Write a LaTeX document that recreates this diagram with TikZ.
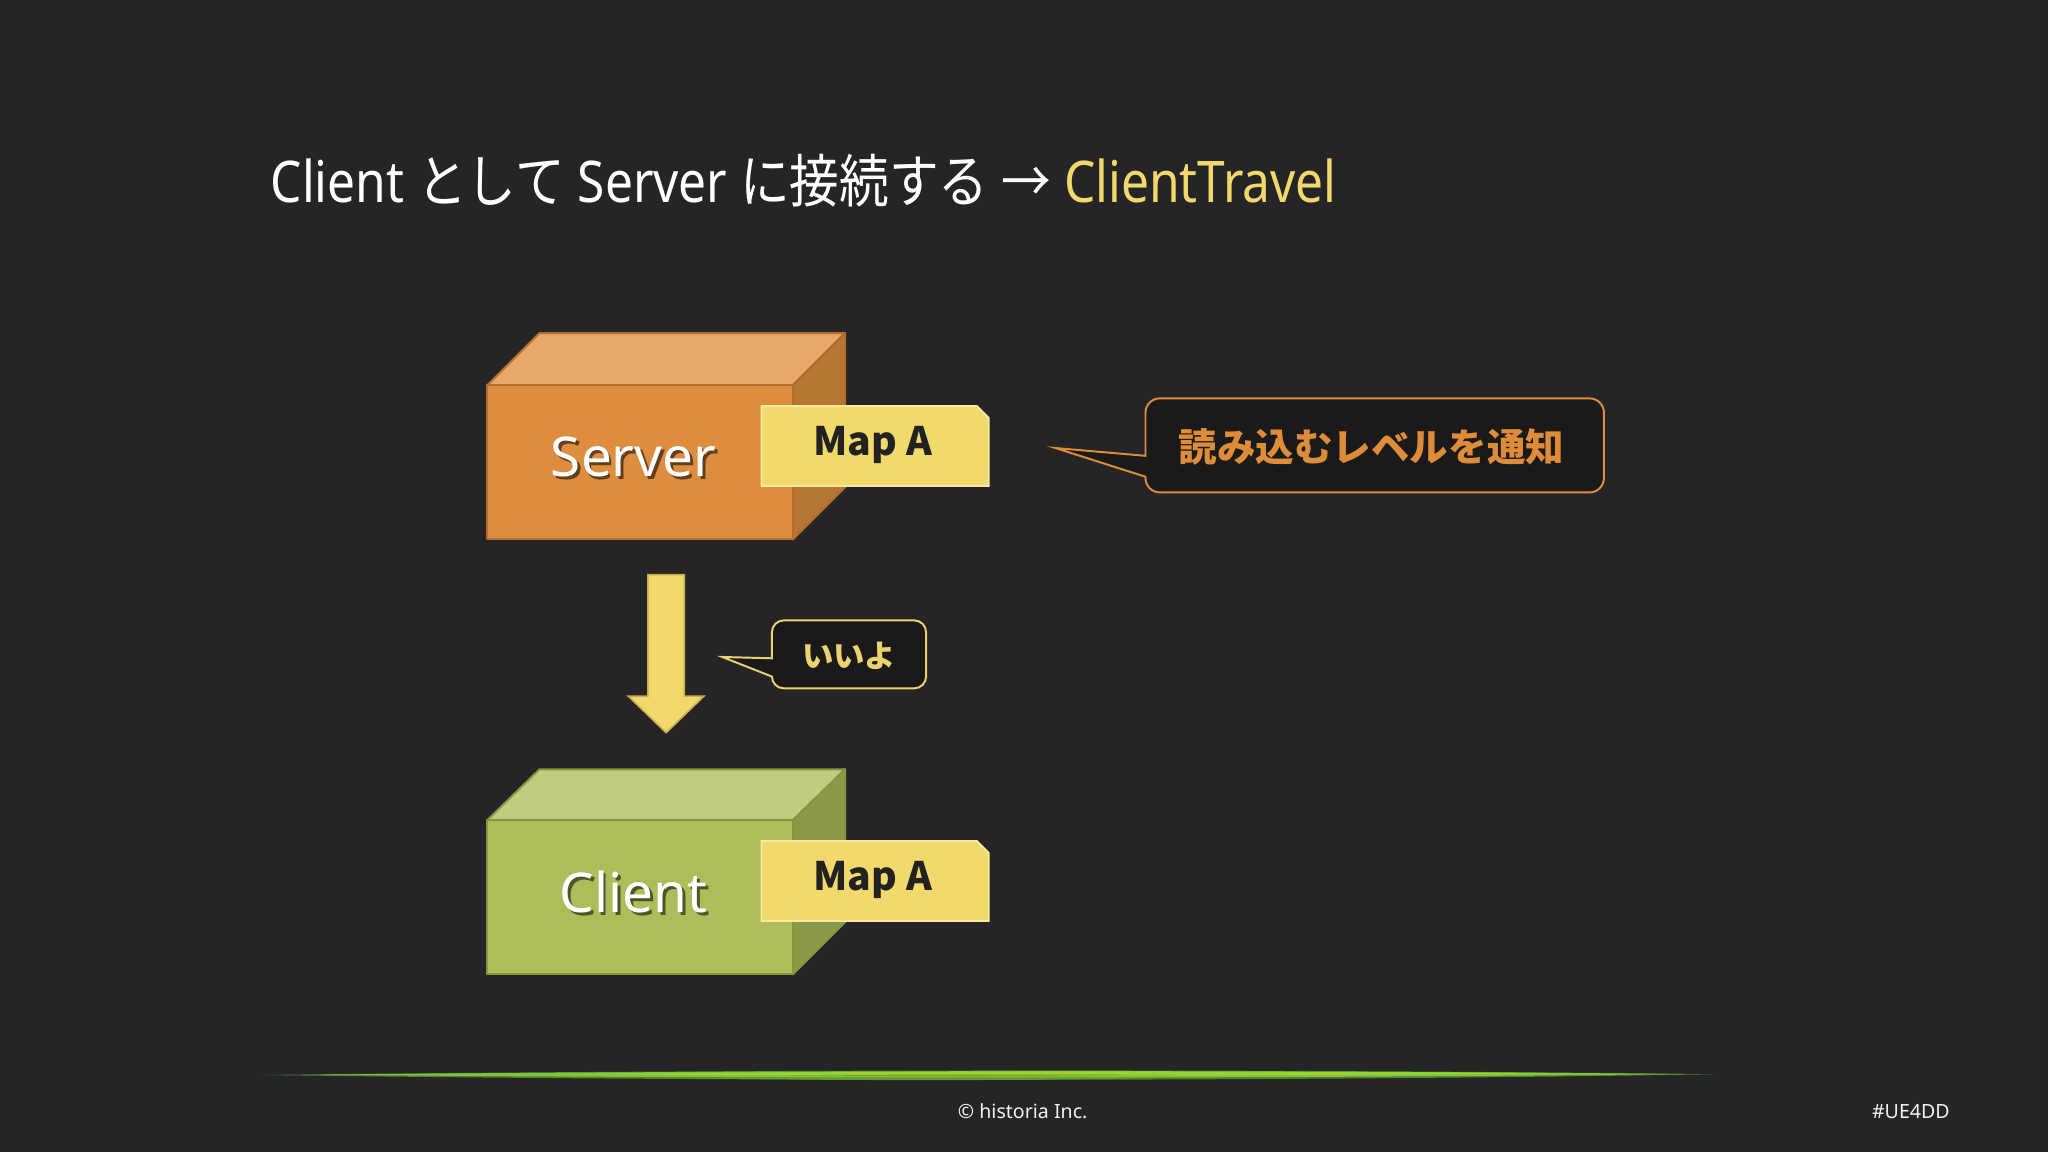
\documentclass[tikz,border=0pt]{standalone}
\usepackage{fontspec}
\usepackage{graphicx}
\setmainfont{Noto Sans}
\newfontfamily\jp{Noto Sans CJK JP}
\definecolor{bg}{RGB}{37,37,39}
\definecolor{titleyellow}{RGB}{242,216,106}
\definecolor{srvfront}{RGB}{222,141,62}
\definecolor{srvtop}{RGB}{229,168,104}
\definecolor{srvside}{RGB}{182,118,52}
\definecolor{srvedge}{RGB}{180,108,44}
\definecolor{clifront}{RGB}{173,189,90}
\definecolor{clitop}{RGB}{192,204,128}
\definecolor{cliside}{RGB}{138,154,70}
\definecolor{cliedge}{RGB}{134,150,62}
\definecolor{tagfill}{RGB}{242,217,107}
\definecolor{tagedge}{RGB}{250,234,160}
\definecolor{tagtext}{RGB}{34,34,34}
\definecolor{calloutfill}{RGB}{26,26,26}
\definecolor{calloutorange}{RGB}{222,140,58}
\definecolor{calloutyellow}{RGB}{236,210,110}
\definecolor{arrowedge}{RGB}{196,172,74}
\definecolor{lineg}{RGB}{132,204,62}
\definecolor{linegd}{RGB}{80,130,44}
\tikzset{
  boxtext/.style={text=white, font=\fontsize{42}{48}\selectfont, inner sep=0},
  shadowtext/.style={text=black, opacity=0.55, font=\fontsize{42}{48}\selectfont, inner sep=0},
  tagtextstyle/.style={text=tagtext, font=\jp\bfseries\fontsize{30}{35}\selectfont, inner sep=0},
  tagshape/.style={fill=tagfill, draw=tagedge, line width=1.5pt, line join=miter},
  footer/.style={text=white!90!gray, font=\fontsize{15}{18}\selectfont, inner sep=0}
}
\begin{document}
\begin{tikzpicture}[x=1pt,y=-1pt]
\fill[bg] (0,0) rectangle (1568,882);
\useasboundingbox (0,0) rectangle (1568,882);

% title
\node[anchor=base west, inner sep=0, text=white, font=\fontsize{44}{50}\selectfont] (title) at (207,155)
  {\resizebox{816pt}{\height}{Client {\jp として} Server {\jp に接続する} {\jp →} \textcolor{titleyellow}{ClientTravel}}};

% ---------- Server box ----------
\begin{scope}[line width=1.5pt, line join=round]
\filldraw[fill=srvtop, draw=srvedge] (373,295) -- (413,255) -- (647,255) -- (607,295) -- cycle;
\filldraw[fill=srvside, draw=srvedge] (607,295) -- (647,255) -- (647,373) -- (607,413) -- cycle;
\filldraw[fill=srvfront, draw=srvedge] (373,295) rectangle (607,413);
\end{scope}
\node[shadowtext] (srvshadow) at (487,352) {Server};
\node[boxtext] (srv) at (485,350) {Server};
\filldraw[tagshape] (583,311) -- (748,311) -- (757,320) -- (757,372) -- (583,372) -- cycle;
\node[tagtextstyle] (mapa1) at (668,341) {Map A};

% ---------- Client box ----------
\begin{scope}[line width=1.5pt, line join=round]
\filldraw[fill=clitop, draw=cliedge] (373,628) -- (413,589) -- (647,589) -- (607,628) -- cycle;
\filldraw[fill=cliside, draw=cliedge] (607,628) -- (647,589) -- (647,706) -- (607,746) -- cycle;
\filldraw[fill=clifront, draw=cliedge] (373,628) rectangle (607,746);
\end{scope}
\node[shadowtext] (clishadow) at (487,685) {Client};
\node[boxtext] (cli) at (485,683) {Client};
\filldraw[tagshape] (583,644) -- (748,644) -- (757,653) -- (757,705) -- (583,705) -- cycle;
\node[tagtextstyle] (mapa2) at (668,674) {Map A};

% ---------- down arrow ----------
\filldraw[fill=titleyellow, draw=arrowedge, line width=1.2pt, line join=miter]
  (496,440) -- (524,440) -- (524,533) -- (539,533) -- (510,561) -- (481,533) -- (496,533) -- cycle;

% ---------- callout: いいよ ----------
\filldraw[fill=calloutfill, draw=calloutyellow, line width=1.5pt]
  (591,504) {[rounded corners=9] -- (591,475) -- (709,475) -- (709,527) -- (591,527)} -- (591,518) -- (553,503) -- cycle;
\node[text=calloutyellow, font=\jp\bfseries\fontsize{24}{28}\selectfont, inner sep=0] (iiyo) at (650,502) {いいよ};

% ---------- callout: 読み込むレベルを通知 ----------
\filldraw[fill=calloutfill, draw=calloutorange, line width=1.5pt]
  (877,349) {[rounded corners=11] -- (877,305) -- (1228,305) -- (1228,377) -- (877,377)} -- (877,365) -- (808,343) -- cycle;
\node[text=calloutorange, font=\jp\bfseries\fontsize{29.5}{34}\selectfont, inner sep=0] (notify) at (1050,342) {読み込むレベルを通知};

% ---------- green brushed line ----------
\fill[linegd] (200,823) .. controls (600,818.5) and (1000,818.5) .. (1312,822.5) .. controls (1000,827.5) and (600,828.5) .. (200,823) -- cycle;
\fill[lineg, opacity=0.9] (240,822.8) .. controls (600,819.3) and (1000,819.3) .. (1290,822.3) .. controls (1000,825.6) and (600,826.2) .. (240,822.8) -- cycle;
\fill[lineg!75!yellow, opacity=0.8] (420,822.3) .. controls (700,820) and (950,820) .. (1200,821.8) .. controls (950,823.8) and (700,824.2) .. (420,822.3) -- cycle;
\fill[linegd!70!black, opacity=0.5] (600,823.2) .. controls (700,822.6) and (800,822.6) .. (900,823) .. controls (800,823.6) and (700,823.8) .. (600,823.2) -- cycle;
\fill[lineg!80!black, opacity=0.8] (520,825.5) .. controls (650,824.1) and (800,824.1) .. (900,825) .. controls (800,827.5) and (650,827.5) .. (520,825.5) -- cycle;

% ---------- footer ----------
\node[footer] (copy) at (783,851) {© historia Inc.};
\node[footer] (tag) at (1463,851) {\#UE4DD};
\end{tikzpicture}
\end{document}
